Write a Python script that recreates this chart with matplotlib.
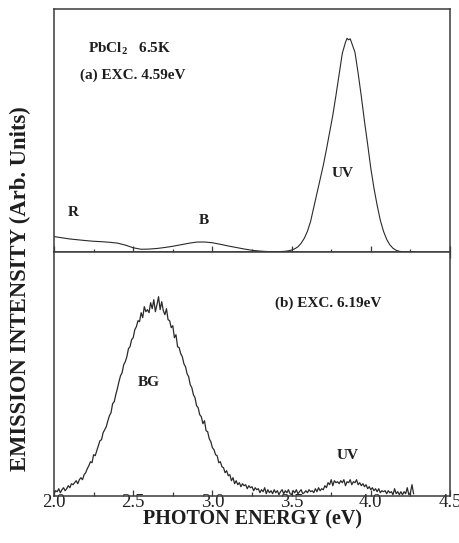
import numpy as np
import matplotlib
matplotlib.use("Agg")
import matplotlib.pyplot as plt
from matplotlib.ticker import MultipleLocator

plt.rcParams["font.family"] = ["Liberation Serif", "DejaVu Serif"]
plt.rcParams["mathtext.fontset"] = "custom"
plt.rcParams["mathtext.rm"] = "Liberation Serif:bold"

# (a) excitation at 4.59 eV: smooth spectrum, R / B bands and the UV peak
energy_a = [2.00, 2.05, 2.10, 2.15, 2.20, 2.25, 2.30, 2.35, 2.40, 2.45,
            2.50, 2.55, 2.60, 2.65, 2.70, 2.75, 2.80, 2.85, 2.90, 2.95,
            3.00, 3.05, 3.10, 3.15, 3.20, 3.25, 3.30, 3.35, 3.40, 3.42,
            3.44, 3.46, 3.48, 3.50, 3.52, 3.54, 3.56, 3.58, 3.60, 3.62,
            3.64, 3.66, 3.68, 3.70, 3.72, 3.74, 3.76, 3.78, 3.80, 3.82,
            3.84, 3.85, 3.86, 3.87, 3.88, 3.90, 3.92, 3.94, 3.96, 3.98,
            4.00, 4.02, 4.04, 4.06, 4.08, 4.10, 4.12, 4.14, 4.16, 4.18,
            4.20, 4.22, 4.24, 4.26, 4.27]
intensity_a = [15.7, 14.5, 13.3, 12.5, 11.7, 11.0, 10.6, 10.0, 9.2, 7.2,
               4.5, 3.0, 3.2, 3.8, 4.8, 6.0, 7.5, 9.0, 10.2, 10.3,
               9.5, 8.0, 6.3, 4.8, 3.3, 2.0, 1.2, 0.7, 0.5, 0.6,
               0.8, 1.0, 1.5, 2.2, 3.5, 5.5, 9, 14, 21, 31,
               45, 59, 73, 87, 103, 120, 137, 157, 178, 199,
               210, 214, 212.5, 213.5, 209, 200, 179, 156, 131, 108,
               84, 64, 47, 32, 21, 13, 7.5, 4, 2, 1,
               0.5, 0.3, 0.3, 0.5, 0.5]

# (b) excitation at 6.19 eV: noisy BG band plus weak UV, one value per 0.01 eV
energy_b = np.round(np.arange(2.00, 4.275, 0.01), 2)
intensity_b = [
    2, 5, 4, 7, 3, 6, 8, 5, 7, 10,
    8, 12, 11, 13, 15, 12, 16, 18, 16, 21,
    23, 27, 30, 34, 33, 41, 40, 45, 50, 55,
    56, 63, 66, 69, 75, 80, 83, 92, 94, 101,
    107, 114, 120, 123, 131, 134, 139, 147, 149, 156,
    158, 166, 169, 175, 174, 183, 178, 189, 184, 186,
    183, 193, 187, 196, 184, 191, 199, 186, 194, 185,
    181, 187, 176, 175, 168, 170, 158, 161, 149, 148,
    142, 139, 132, 129, 122, 119, 111, 108, 101, 98,
    90, 88, 81, 79, 72, 75, 65, 64, 57, 54,
    48, 46, 41, 40, 33, 34, 29, 28, 23, 25,
    20, 21, 15, 18, 12, 15, 11, 13, 9, 12,
    10, 11, 7, 10, 8, 9, 5, 8, 6, 7,
    3, 6, 4, 8, 2, 6, 3, 5, 2, 6,
    3, 5, 1, 4, 6, 2, 5, 3, 6, 2,
    1, 5, 3, 6, 2, 4, 6, 2, 3, 5,
    3, 6, 4, 5, 3, 7, 4, 8, 5, 7,
    6, 10, 8, 13, 11, 16, 10, 15, 13, 14,
    12, 15, 13, 16, 10, 14, 13, 16, 11, 14,
    13, 16, 11, 13, 10, 12, 9, 11, 7, 9,
    6, 8, 5, 7, 4, 7, 3, 5, 4, 5,
    2, 5, 3, 4, 1, 7, 2, 4, 1, 4,
    1, 4, 2, 8, 1, 3, 11, 2,
]

x_ticks = [2.0, 2.5, 3.0, 3.5, 4.0, 4.5]
x_ticklabels = ["2.0", "2.5", "3.0", "3.5", "4.0", "4.5"]

frame = "#3a3a3a"
ink = "#2a2a2a"
bold = dict(fontweight="bold", color="#1e1e1e", fontsize=11)

fig = plt.figure(figsize=(4.6, 5.43), dpi=100)
ax_a = fig.add_axes([0.1174, 0.5354, 0.8609, 0.4480])
ax_b = fig.add_axes([0.1174, 0.0871, 0.8609, 0.4483])

for ax in (ax_a, ax_b):
    ax.set_xlim(2.0, 4.5)
    ax.set_yticks([])
    ax.xaxis.set_major_locator(MultipleLocator(0.5))
    ax.xaxis.set_minor_locator(MultipleLocator(0.25))
    for sp in ax.spines.values():
        sp.set_color(frame)
        sp.set_linewidth(1.1)

ax_a.set_ylim(0, 243.3)
ax_b.set_ylim(0, 243.4)

ax_a.plot(energy_a, intensity_a, color=ink, lw=0.8)
ax_b.plot(energy_b, intensity_b, color=ink, lw=0.9)

ax_a.tick_params(axis="x", which="major", direction="inout", length=8,
                 width=0.9, color=frame, labelbottom=False)
ax_a.tick_params(axis="x", which="minor", direction="inout", length=4,
                 width=0.9, color=frame)
ax_b.tick_params(axis="x", which="major", direction="in", length=4,
                 width=0.9, color=frame, pad=-1, labelsize=13.5,
                 labelcolor="#222222")
ax_b.tick_params(axis="x", which="minor", direction="in", length=3,
                 width=0.9, color=frame)
ax_b.set_xticks(x_ticks)
ax_b.set_xticklabels(x_ticklabels)

# annotations, upper spectrum
ax_a.text(2.215, 204, r"PbCl$_\mathrm{2}$   6.5K", ha="left", va="center", **bold)
ax_a.text(2.164, 177, "(a) EXC. 4.59eV", ha="left", va="center", **bold)
ax_a.text(2.12, 40, "R", ha="center", va="center", **bold)
ax_a.text(2.947, 32, "B", ha="center", va="center", **bold)
ax_a.text(3.824, 79, "UV", ha="center", va="center", **bold)

# annotations, lower spectrum
ax_b.text(3.395, 192.7, "(b) EXC. 6.19eV", ha="left", va="center", **bold)
ax_b.text(2.60, 112.7, "BG", ha="center", va="center", **bold)
ax_b.text(3.856, 40.7, "UV", ha="center", va="center", **bold)

fig.text(0.548, 0.043, "PHOTON ENERGY (eV)", ha="center", va="center",
         fontsize=14.5, fontweight="bold", color="#1e1e1e")
fig.text(0.0435, 0.468, "EMISSION INTENSITY (Arb. Units)", ha="center",
         va="center", rotation=90, fontsize=16.3, fontweight="bold",
         color="#1e1e1e")

fig.savefig("out.png", dpi=100)
